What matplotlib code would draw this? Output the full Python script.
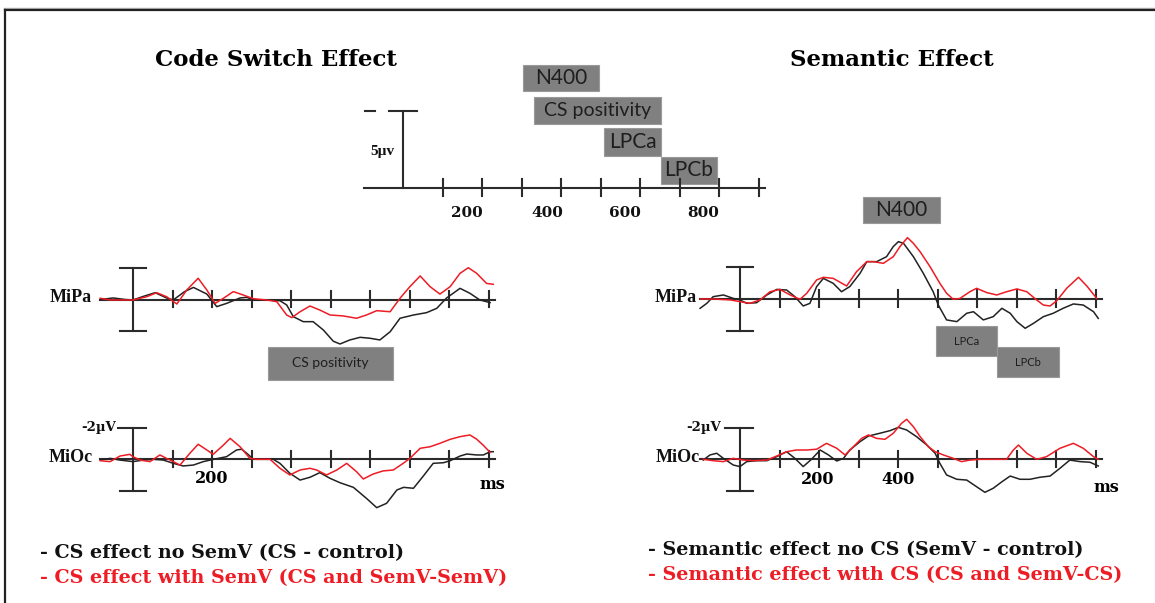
import matplotlib.pyplot as plt
from matplotlib.patches import Rectangle

W, H = 1155, 603
PX_MS = 0.395   # pixels per ms
PX_UV = 15.5    # pixels per microvolt

# ---- Code switch effect, MiPa ----
cs_pa_black_t = [-83, -50, -20, 0, 26, 56, 85, 102, 130, 153, 187, 212, 237, 271, 288, 305, 338, 372, 389,
                 406, 431, 456, 482, 507, 524, 549, 575, 600, 625, 651, 676, 710, 743, 769, 794, 828, 853, 878, 904]
cs_pa_black_v = [0, -0.1, 0, 0.03, -0.2, -0.44, -0.1, 0.03, -0.5, -0.78, -0.35, 0.46, 0.25, -0.1, -0.14, 0.03, 0.03,
                 0.08, 0.35, 1.11, 1.43, 1.43, 1.97, 2.69, 2.87, 2.61, 2.44, 2.5, 2.61, 2.08, 1.21, 1.0, 0.85, 0.57,
                 -0.1, -0.72, -0.4, 0.03, 0.2]
cs_pa_red_t = [-83, -58, -33, 0, 35, 60, 85, 111, 136, 165, 187, 208, 229, 254, 279, 305, 338, 364, 389, 402,
               423, 448, 473, 499, 532, 566, 591, 617, 651, 676, 701, 727, 752, 777, 803, 828, 849, 870, 895, 912]
cs_pa_red_v = [-0.08, 0.03, 0.03, 0.03, -0.18, -0.44, -0.18, 0.29, -0.61, -1.37, -0.61, 0.25, -0.08, -0.51,
               -0.29, -0.05, 0.03, 0.14, 1.0, 1.17, 0.79, 0.42, 0.68, 1.0, 1.06, 1.21, 1.0, 0.72, 0.79, -0.08,
               -0.83, -1.52, -0.83, -0.35, -0.83, -1.69, -2.05, -1.69, -1.04, -0.98]

# ---- Code switch effect, MiOc ----
cs_oc_black_t = [-83, -58, -33, 0, 26, 51, 77, 102, 127, 153, 178, 204, 237, 262, 275, 288, 305, 330, 355, 372,
                 397, 423, 448, 473, 499, 524, 558, 591, 617, 642, 668, 685, 710, 735, 760, 786, 803, 828, 845,
                 870, 887, 904, 912]
cs_oc_black_v = [0.05, -0.06, 0.05, 0.15, 0.05, 0, 0.05, 0.26, 0.43, 0.37, 0.15, 0, -0.17, -0.6, -0.65, -0.39,
                 0, 0, 0, 0.26, 0.9, 1.34, 1.16, 0.86, 1.23, 1.51, 1.81, 2.52, 3.12, 2.84, 1.98, 1.81, 1.87, 1.08,
                 0.26, 0.22, 0.09, -0.21, -0.34, -0.28, -0.28, -0.49, -0.49]
cs_oc_red_t = [-83, -58, -33, -8, 0, 18, 43, 68, 85, 102, 119, 144, 165, 187, 203, 229, 246, 271, 296, 313, 347,
               372, 397, 423, 448, 465, 490, 516, 541, 566, 583, 608, 633, 659, 684, 701, 727, 752, 777, 803, 828,
               853, 870, 887, 904]
cs_oc_red_v = [0.09, 0.15, -0.21, -0.32, -0.17, 0.05, 0.15, -0.28, -0.06, 0.15, 0.37, -0.39, -0.97, -0.6, -0.32,
               -0.92, -1.35, -0.81, -0.06, 0, 0, 0.58, 1.01, 0.69, 0.58, 0.69, 1.01, 0.69, 0.26, 0.8, 1.27, 0.95,
               0.75, 0.69, 0.26, -0.06, -0.71, -0.81, -1.03, -1.29, -1.46, -1.57, -1.3, -0.9, -0.45]

# ---- Semantic effect, MiPa ----
sem_pa_black_t = [-101, -84, -68, -42, -17, 0, 17, 42, 68, 93, 118, 139, 160, 177, 194, 211, 236, 257, 278, 304,
                  321, 346, 371, 388, 401, 414, 439, 464, 489, 502, 523, 549, 574, 591, 616, 641, 663, 684, 701,
                  722, 743, 768, 793, 818, 844, 869, 895, 907]
sem_pa_black_v = [0.6, 0.28, -0.15, -0.26, -0.04, 0.06, 0.28, 0.24, -0.26, -0.62, -0.58, -0.15, 0.45, 0.28, -0.8,
                  -1.33, -1.01, -0.47, -0.8, -1.66, -2.41, -2.41, -2.73, -3.38, -3.7, -3.59, -2.73, -1.66, -0.47,
                  0.39, 1.35, 1.46, 0.92, 0.82, 1.35, 1.14, 0.6, 0.92, 1.46, 1.89, 1.57, 1.14, 0.92, 0.6, 0.32,
                  0.39, 0.82, 1.25]
sem_pa_red_t = [-101, -68, -25, 0, 25, 51, 76, 101, 127, 152, 169, 194, 211, 236, 270, 295, 321, 338, 363, 388,
                405, 424, 439, 456, 481, 506, 523, 540, 557, 582, 599, 625, 650, 675, 701, 726, 751, 768, 785, 802,
                827, 857, 878, 903]
sem_pa_red_v = [0, 0, 0.06, 0.17, 0.28, 0.06, -0.47, -0.62, -0.26, 0.02, -0.37, -1.23, -1.4, -1.33, -0.84, -1.76,
                -2.41, -2.41, -2.3, -2.73, -3.38, -3.96, -3.59, -3.05, -2.09, -1.01, -0.37, 0.02, -0.04, -0.47,
                -0.69, -0.41, -0.26, -0.47, -0.65, -0.47, 0.06, 0.39, 0.45, 0.11, -0.69, -1.4, -0.84, -0.04]

# ---- Semantic effect, MiOc ----
sem_oc_black_t = [-93, -76, -59, -42, -17, 0, 17, 42, 68, 93, 118, 139, 160, 181, 203, 224, 245, 262, 278, 304,
                  325, 354, 380, 401, 422, 447, 473, 494, 506, 523, 549, 574, 599, 620, 641, 663, 684, 709, 734,
                  759, 785, 810, 835, 861, 886, 907]
sem_oc_black_v = [0.05, -0.28, -0.39, -0.06, 0.37, 0.47, 0.15, 0.09, 0.09, -0.17, -0.49, -0.06, 0.47, 0, -0.6,
                  -0.28, 0.11, -0.06, -0.6, -1.14, -1.5, -1.68, -1.85, -2.06, -1.89, -1.46, -0.92, -0.39, 0.26,
                  1.01, 1.29, 1.34, 1.77, 2.13, 1.87, 1.45, 1.08, 1.29, 1.29, 1.16, 1.08, 0.58, 0.05, 0.15, 0.19,
                  0.43]
sem_oc_red_t = [-93, -68, -42, -17, 8, 34, 68, 93, 118, 143, 169, 194, 219, 245, 266, 287, 308, 325, 346, 367,
                388, 409, 422, 439, 456, 477, 494, 515, 540, 561, 582, 608, 641, 675, 692, 705, 726, 751, 776, 810,
                844, 869, 895, 907]
sem_oc_red_v = [0, 0.09, 0.15, -0.06, 0.05, 0.09, 0.05, -0.21, -0.49, -0.6, -0.6, -0.65, -1.03, -0.71, -0.28,
                -0.81, -1.35, -1.57, -1.35, -1.29, -1.68, -2.32, -2.58, -2.1, -1.46, -0.81, -0.49, -0.28, -0.06,
                0.15, 0.05, 0, 0, 0, -0.6, -0.92, -0.39, 0, -0.17, -0.71, -1.03, -0.71, -0.17, 0]

# component windows (ms) on the scale at the top
win_names = ["N400", "CS positivity", "LPCa", "LPCb"]
win_start = [304, 332, 509, 653]
win_end = [496, 653, 653, 795]

scale_ticks = [100, 200, 300, 400, 500, 600, 700, 800, 900]
scale_labels = ["200", "400", "600", "800"]
scale_label_ms = [162, 365, 562, 760]

AX_COL = "#2b2b2b"
RED = "#ee1c24"
BOX = "#808080"

fig = plt.figure(figsize=(W / 100, H / 100), dpi=100)
bg = fig.add_axes([0, 0, 1, 1])
bg.set_xlim(0, W)
bg.set_ylim(H, 0)
bg.axis("off")

# frame
bg.plot([4, W], [8, 8], color="#b0b0b0", lw=1.0)
bg.plot([5, W], [10, 10], color="#222222", lw=1.6)
bg.plot([5, 5], [10, H], color="#222222", lw=1.6)


def panel(x0, y0, tmin=-130, tmax=960, vmin=-9, vmax=6):
    left = (x0 + tmin * PX_MS) / W
    width = (tmax - tmin) * PX_MS / W
    top_px = y0 + vmin * PX_UV
    bot_px = y0 + vmax * PX_UV
    ax = fig.add_axes([left, 1 - bot_px / H, width, (bot_px - top_px) / H])
    ax.set_xlim(tmin, tmax)
    ax.set_ylim(vmax, vmin)
    ax.axis("off")
    return ax


def axes_lines(ax, t0, t1, cap_left=-34):
    ax.plot([t0, t1], [0, 0], color=AX_COL, lw=1.5)
    for t in scale_ticks:
        ax.plot([t, t], [-0.55, 0.5], color=AX_COL, lw=1.5)
    ax.plot([0, 0], [-2.05, 2.05], color=AX_COL, lw=1.5)
    ax.plot([cap_left, 34], [-2.05, -2.05], color=AX_COL, lw=1.5)
    ax.plot([-34, 34], [2.05, 2.05], color=AX_COL, lw=1.5)


def box(ax, t0, t1, v0, v1, label, size):
    ax.add_patch(Rectangle((t0, v0), t1 - t0, v1 - v0, facecolor=BOX, edgecolor="#9a9a9a", lw=0.8))
    ax.text((t0 + t1) / 2, (v0 + v1) / 2, label, ha="center", va="center", fontsize=size,
            family="Lato", color="#1e1e1e")


serif_bold = dict(family="DejaVu Serif", fontweight="bold")

# ---- top scale ----
sc = panel(403, 188)
sc.plot([-99, 916], [0, 0], color=AX_COL, lw=1.5)
for t in scale_ticks:
    sc.plot([t, t], [-0.55, 0.5], color=AX_COL, lw=1.5)
sc.plot([0, 0], [0, -5.0], color=AX_COL, lw=1.5)
sc.plot([-96, -71], [-5.0, -5.0], color=AX_COL, lw=1.5)
sc.plot([-35, 35], [-5.0, -5.0], color=AX_COL, lw=1.5)
for lab, t in zip(scale_labels, scale_label_ms):
    sc.text(t, 1.6, lab, ha="center", va="center", fontsize=11, color="#111111", **serif_bold)
box(sc, win_start[0], win_end[0], -7.94, -6.26, win_names[0], 15)
box(sc, win_start[1], win_end[1], -5.87, -4.13, win_names[1], 14)
box(sc, win_start[2], win_end[2], -3.87, -2.06, win_names[2], 15)
box(sc, win_start[3], win_end[3], -2.0, -0.26, win_names[3], 15)
bg.text(382, 152, "5µv", ha="center", va="center", fontsize=11, family="Liberation Serif",
        fontweight="bold", color="#111111")

# ---- titles ----
bg.text(276, 60, "Code Switch Effect", ha="center", va="center", fontsize=16.5, **serif_bold)
bg.text(892, 60, "Semantic Effect", ha="center", va="center", fontsize=16.5, **serif_bold)

# ---- CS MiPa ----
a1 = panel(133, 299.5)
axes_lines(a1, -83, 916)
a1.plot(cs_pa_black_t, cs_pa_black_v, color="#222222", lw=1.1)
a1.plot(cs_pa_red_t, cs_pa_red_v, color=RED, lw=1.1)
box(a1, 342, 658, 3.06, 5.19, "CS positivity", 10)

# ---- CS MiOc ----
a2 = panel(133, 459.3)
axes_lines(a2, -83, 916, cap_left=-38)
a2.plot(cs_oc_black_t, cs_oc_black_v, color="#222222", lw=1.1)
a2.plot(cs_oc_red_t, cs_oc_red_v, color=RED, lw=1.1)
a2.text(200, 1.27, "200", ha="center", va="center", fontsize=11.5, **serif_bold)
a2.text(911, 1.6, "ms", ha="center", va="center", fontsize=11.5, **serif_bold)

# ---- Semantic MiPa ----
a3 = panel(740, 299)
axes_lines(a3, -101, 916)
a3.plot(sem_pa_black_t, sem_pa_black_v, color="#222222", lw=1.1)
a3.plot(sem_pa_red_t, sem_pa_red_v, color=RED, lw=1.1)
box(a3, 311, 506, -6.58, -4.9, "N400", 15)
box(a3, 496, 651, 1.74, 3.68, "LPCa", 8)
box(a3, 651, 808, 3.1, 5.03, "LPCb", 8)

# ---- Semantic MiOc ----
a4 = panel(740, 459.3)
axes_lines(a4, -101, 916, cap_left=-38)
a4.plot(sem_oc_black_t, sem_oc_black_v, color="#222222", lw=1.1)
a4.plot(sem_oc_red_t, sem_oc_red_v, color=RED, lw=1.1)
a4.text(197, 1.33, "200", ha="center", va="center", fontsize=11.5, **serif_bold)
a4.text(400, 1.33, "400", ha="center", va="center", fontsize=11.5, **serif_bold)
a4.text(927, 1.8, "ms", ha="center", va="center", fontsize=11.5, **serif_bold)

# ---- electrode labels ----
lab = dict(family="Liberation Serif", fontweight="bold", fontsize=13, va="center", color="#111111")
bg.text(92, 297, "MiPa", ha="right", **lab)
bg.text(697, 297, "MiPa", ha="right", **lab)
bg.text(93, 457, "MiOc", ha="right", **lab)
bg.text(700, 457, "MiOc", ha="right", **lab)
bg.text(116, 427, "-2µV", ha="right", va="center", fontsize=9.5, color="#111111", **serif_bold)
bg.text(721, 427, "-2µV", ha="right", va="center", fontsize=9.5, color="#111111", **serif_bold)

# ---- legends ----
bg.text(40, 553, "- CS effect no SemV (CS - control)", ha="left", va="center", fontsize=13.8,
        color="#111111", **serif_bold)
bg.text(40, 578, "- CS effect with SemV (CS and SemV-SemV)", ha="left", va="center", fontsize=13.8,
        color=RED, **serif_bold)
bg.text(648, 550, "- Semantic effect no CS (SemV - control)", ha="left", va="center", fontsize=13.8,
        color="#111111", **serif_bold)
bg.text(648, 575, "- Semantic effect with CS (CS and SemV-CS)", ha="left", va="center", fontsize=13.8,
        color=RED, **serif_bold)

fig.savefig("out.png", dpi=100)
